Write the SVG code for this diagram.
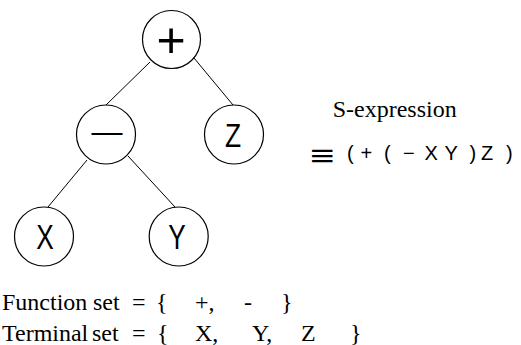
<svg xmlns="http://www.w3.org/2000/svg" width="521" height="345" viewBox="0 0 521 345">
<style>
.n{fill:#fff;stroke:#000;stroke-width:1.2}
.e{stroke:#000;stroke-width:1;fill:none}
.s{font-family:"Liberation Sans",Arial,sans-serif;fill:#000}
.t{font-family:"Liberation Serif","Times New Roman",serif;fill:#000;font-size:24px}
</style>
<rect width="521" height="345" fill="#fff"/>
<g id="edges">
<line class="e" x1="150" y1="62" x2="106" y2="105"/>
<line class="e" x1="194" y1="58" x2="233" y2="105"/>
<line class="e" x1="87" y1="160" x2="48" y2="207"/>
<line class="e" x1="128" y1="156" x2="175" y2="207"/>
</g>
<g id="plus">
<circle class="n" cx="171.5" cy="39.5" r="29"/>
<text class="s" x="171" y="57" font-size="50" text-anchor="middle">+</text>
</g>
<g id="minus">
<circle class="n" cx="106" cy="134.5" r="29.5"/>
<text class="s" x="107" y="142" font-size="31" text-anchor="middle">—</text>
</g>
<g id="z">
<circle class="n" cx="234" cy="134.5" r="29.5"/>
<text class="s" transform="translate(233,146.5) scale(0.8,1)" font-size="33" text-anchor="middle">Z</text>
</g>
<g id="x">
<circle class="n" cx="44" cy="236.5" r="29.5"/>
<text class="s" transform="translate(45,249) scale(0.75,1)" font-size="35" text-anchor="middle">X</text>
</g>
<g id="y">
<circle class="n" cx="178.7" cy="236.5" r="29.5"/>
<text class="s" transform="translate(177,249) scale(0.75,1)" font-size="35" text-anchor="middle">Y</text>
</g>
<g id="sexpr">
<text class="t" x="332.7" y="116.7" font-size="25">S-expression</text>
<text font-family="'DejaVu Sans',sans-serif" font-weight="200" font-size="30" transform="translate(310,166) scale(1.4,1)">≡</text>
<text class="s" font-size="20" y="160" x="347 360.5 384 403 424.5 444.5 469.5 481 506">(+(−XY)Z)</text>
</g>
<g id="sets">
<text class="t" y="310"><tspan x="2">Function</tspan><tspan x="93">set</tspan><tspan x="132">=</tspan><tspan x="156">{</tspan><tspan x="195">+,</tspan><tspan x="244">-</tspan><tspan x="281">}</tspan></text>
<text class="t" y="341"><tspan x="2">Terminal</tspan><tspan x="92">set</tspan><tspan x="132">=</tspan><tspan x="157">{</tspan><tspan x="195">X,</tspan><tspan x="252">Y,</tspan><tspan x="301">Z</tspan><tspan x="350">}</tspan></text>
</g>
</svg>
